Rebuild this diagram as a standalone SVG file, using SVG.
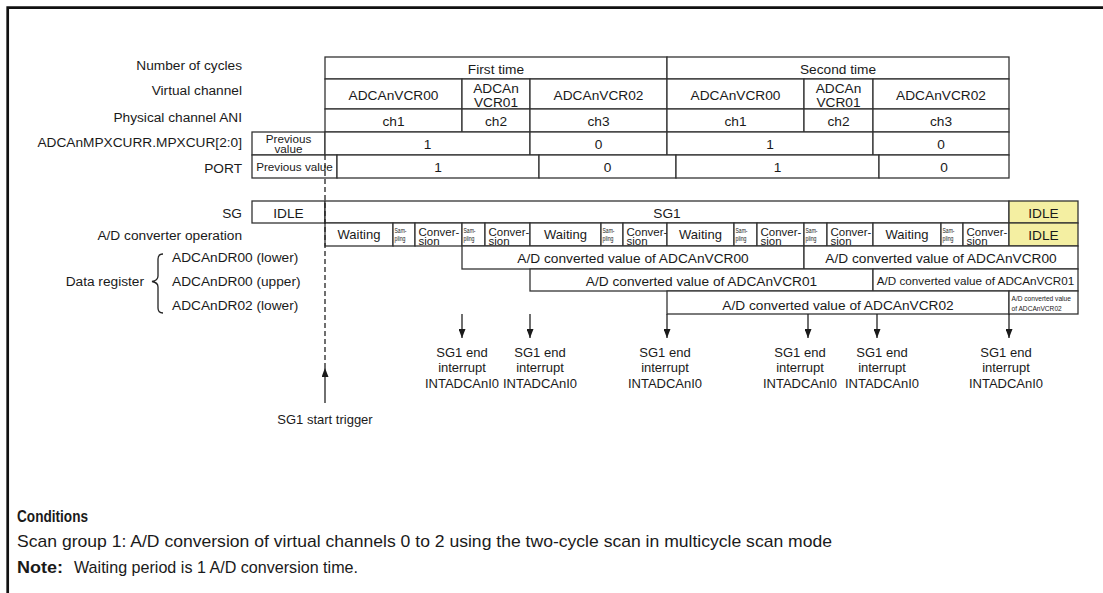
<svg xmlns="http://www.w3.org/2000/svg" width="1103" height="593" viewBox="0 0 1103 593">
<defs>
<style>
text{font-family:"Liberation Sans",Arial,Helvetica,sans-serif;fill:#1a1a1a}
.l{font-size:13.7px;text-anchor:end}
.ls{font-size:13.7px;text-anchor:start}
.c{font-size:13.7px;text-anchor:middle}
.w{font-size:13px;text-anchor:middle}
.pv{font-size:11.7px;text-anchor:middle}
.sm{font-size:7.5px}
.tn{font-size:6.6px}
.cv{font-size:11.5px}
.ir{font-size:13px;text-anchor:middle}
.b{fill:#fff;stroke:#333;stroke-width:1.3}
.y{fill:#f4efa2;stroke:#333;stroke-width:1.3}
.ln{stroke:#222;stroke-width:1.3;fill:none}
.bt{font-size:17px}
</style>
<marker id="ah" markerUnits="userSpaceOnUse" markerWidth="9" markerHeight="7" refX="9" refY="3.5" orient="auto" viewBox="0 0 9 7">
<path d="M0,0 L9,3.5 L0,7 z" fill="#1a1a1a"/>
</marker>
</defs>
<rect x="0" y="0" width="1103" height="593" fill="#fff"/>
<path d="M7.7,593 L7.7,7.7 L1103,7.7" fill="none" stroke="#111" stroke-width="2.7"/>

<g id="row-labels">
<text class="l" x="242" y="69.5">Number of cycles</text>
<text class="l" x="242" y="95">Virtual channel</text>
<text class="l" x="242" y="121.7">Physical channel ANI</text>
<text class="l" x="242" y="146.7">ADCAnMPXCURR.MPXCUR[2:0]</text>
<text class="l" x="242" y="173.3">PORT</text>
<text class="l" x="242" y="218">SG</text>
<text class="l" x="242" y="240">A/D converter operation</text>
<text class="l" x="144" y="286">Data register</text>
<text class="ls" x="172" y="261.7">ADCAnDR00 (lower)</text>
<text class="ls" x="172" y="286">ADCAnDR00 (upper)</text>
<text class="ls" x="172" y="310">ADCAnDR02 (lower)</text>
<path class="ln" d="M163,254 Q158,254 158,259 L158,276 Q158,280.5 152,281.5 Q158,282.5 158,287 L158,308 Q158,313 163,313"/>
</g>

<g id="cycles">
<rect class="b" x="325" y="57" width="342" height="22"/>
<text class="c" x="496" y="74">First time</text>
<rect class="b" x="667" y="57" width="342" height="22"/>
<text class="c" x="838" y="74">Second time</text>
</g>

<g id="virtual-channel">
<rect class="b" x="325" y="79" width="137" height="30"/>
<text class="c" x="393.5" y="100">ADCAnVCR00</text>
<rect class="b" x="462" y="79" width="68" height="30"/>
<text class="c" x="496" y="93">ADCAn</text>
<text class="c" x="496" y="106.5">VCR01</text>
<rect class="b" x="530" y="79" width="137" height="30"/>
<text class="c" x="598.5" y="100">ADCAnVCR02</text>
<rect class="b" x="667" y="79" width="137" height="30"/>
<text class="c" x="735.5" y="100">ADCAnVCR00</text>
<rect class="b" x="804" y="79" width="69" height="30"/>
<text class="c" x="838.5" y="93">ADCAn</text>
<text class="c" x="838.5" y="106.5">VCR01</text>
<rect class="b" x="873" y="79" width="136" height="30"/>
<text class="c" x="941" y="100">ADCAnVCR02</text>
</g>

<g id="physical-channel">
<rect class="b" x="325" y="109" width="137" height="23"/>
<text class="c" x="393.5" y="126">ch1</text>
<rect class="b" x="462" y="109" width="68" height="23"/>
<text class="c" x="496" y="126">ch2</text>
<rect class="b" x="530" y="109" width="137" height="23"/>
<text class="c" x="598.5" y="126">ch3</text>
<rect class="b" x="667" y="109" width="137" height="23"/>
<text class="c" x="735.5" y="126">ch1</text>
<rect class="b" x="804" y="109" width="69" height="23"/>
<text class="c" x="838.5" y="126">ch2</text>
<rect class="b" x="873" y="109" width="136" height="23"/>
<text class="c" x="941" y="126">ch3</text>
</g>

<g id="mpxcur">
<rect class="b" x="252" y="132" width="73" height="23"/>
<text class="pv" x="288.5" y="143">Previous</text>
<text class="pv" x="288.5" y="153">value</text>
<rect class="b" x="325" y="132" width="205" height="23"/>
<text class="c" x="427.5" y="149.3">1</text>
<rect class="b" x="530" y="132" width="137" height="23"/>
<text class="c" x="598.5" y="149.3">0</text>
<rect class="b" x="667" y="132" width="206" height="23"/>
<text class="c" x="770" y="149.3">1</text>
<rect class="b" x="873" y="132" width="136" height="23"/>
<text class="c" x="941" y="149.3">0</text>
</g>

<g id="port">
<rect class="b" x="252" y="155" width="85" height="23"/>
<text class="pv" x="294.5" y="170.5">Previous value</text>
<rect class="b" x="337" y="155" width="202" height="23"/>
<text class="c" x="438" y="171.7">1</text>
<rect class="b" x="539" y="155" width="137" height="23"/>
<text class="c" x="607.5" y="171.7">0</text>
<rect class="b" x="676" y="155" width="203" height="23"/>
<text class="c" x="777.5" y="171.7">1</text>
<rect class="b" x="879" y="155" width="130" height="23"/>
<text class="c" x="944" y="171.7">0</text>
</g>

<g id="sg">
<rect class="b" x="252" y="201" width="73" height="22"/>
<text class="c" x="288.5" y="218">IDLE</text>
<rect class="b" x="325" y="201" width="684" height="22"/>
<text class="c" x="667" y="218">SG1</text>
<rect class="y" x="1009" y="201" width="69" height="22"/>
<text class="c" x="1043.5" y="218">IDLE</text>
</g>

<g id="ad-operation">
<rect class="b" x="325" y="223" width="68" height="23"/>
<text class="w" x="359" y="239">Waiting</text>
<rect class="b" x="393" y="223" width="22" height="23"/>
<text class="sm" x="394.5" y="232.5" textLength="12" lengthAdjust="spacingAndGlyphs">Sam-</text>
<text class="sm" x="394.5" y="240.5" textLength="11" lengthAdjust="spacingAndGlyphs">pling</text>
<rect class="b" x="415" y="223" width="47" height="23"/>
<text class="cv" x="418.5" y="235.5">Conver-</text>
<text class="cv" x="418.5" y="244.5">sion</text>
<rect class="b" x="462" y="223" width="23" height="23"/>
<text class="sm" x="463.5" y="232.5" textLength="12" lengthAdjust="spacingAndGlyphs">Sam-</text>
<text class="sm" x="463.5" y="240.5" textLength="11" lengthAdjust="spacingAndGlyphs">pling</text>
<rect class="b" x="485" y="223" width="45" height="23"/>
<text class="cv" x="488.5" y="235.5">Conver-</text>
<text class="cv" x="488.5" y="244.5">sion</text>
<rect class="b" x="530" y="223" width="71" height="23"/>
<text class="w" x="565.5" y="239">Waiting</text>
<rect class="b" x="601" y="223" width="22" height="23"/>
<text class="sm" x="602.5" y="232.5" textLength="12" lengthAdjust="spacingAndGlyphs">Sam-</text>
<text class="sm" x="602.5" y="240.5" textLength="11" lengthAdjust="spacingAndGlyphs">pling</text>
<rect class="b" x="623" y="223" width="44" height="23"/>
<text class="cv" x="626.5" y="235.5">Conver-</text>
<text class="cv" x="626.5" y="244.5">sion</text>
<rect class="b" x="667" y="223" width="67" height="23"/>
<text class="w" x="700.5" y="239">Waiting</text>
<rect class="b" x="734" y="223" width="23" height="23"/>
<text class="sm" x="735.5" y="232.5" textLength="12" lengthAdjust="spacingAndGlyphs">Sam-</text>
<text class="sm" x="735.5" y="240.5" textLength="11" lengthAdjust="spacingAndGlyphs">pling</text>
<rect class="b" x="757" y="223" width="47" height="23"/>
<text class="cv" x="760.5" y="235.5">Conver-</text>
<text class="cv" x="760.5" y="244.5">sion</text>
<rect class="b" x="804" y="223" width="23" height="23"/>
<text class="sm" x="805.5" y="232.5" textLength="12" lengthAdjust="spacingAndGlyphs">Sam-</text>
<text class="sm" x="805.5" y="240.5" textLength="11" lengthAdjust="spacingAndGlyphs">pling</text>
<rect class="b" x="827" y="223" width="46" height="23"/>
<text class="cv" x="830.5" y="235.5">Conver-</text>
<text class="cv" x="830.5" y="244.5">sion</text>
<rect class="b" x="873" y="223" width="68" height="23"/>
<text class="w" x="907" y="239">Waiting</text>
<rect class="b" x="941" y="223" width="22" height="23"/>
<text class="sm" x="942.5" y="232.5" textLength="12" lengthAdjust="spacingAndGlyphs">Sam-</text>
<text class="sm" x="942.5" y="240.5" textLength="11" lengthAdjust="spacingAndGlyphs">pling</text>
<rect class="b" x="963" y="223" width="46" height="23"/>
<text class="cv" x="966.5" y="235.5">Conver-</text>
<text class="cv" x="966.5" y="244.5">sion</text>
<rect class="y" x="1009" y="223" width="69" height="23"/>
<text class="c" x="1043.5" y="240">IDLE</text>
</g>

<g id="dr00-lower">
<rect class="b" x="462" y="246" width="342" height="23"/>
<text class="c" x="633" y="263">A/D converted value of ADCAnVCR00</text>
<rect class="b" x="804" y="246" width="274" height="23"/>
<text class="c" x="941" y="263">A/D converted value of ADCAnVCR00</text>
</g>

<g id="dr00-upper">
<rect class="b" x="530" y="269" width="343" height="22"/>
<text class="c" x="701.5" y="286">A/D converted value of ADCAnVCR01</text>
<rect class="b" x="873" y="269" width="205" height="22"/>
<text class="pv" x="975.5" y="284.5">A/D converted value of ADCAnVCR01</text>
</g>

<g id="dr02-lower">
<rect class="b" x="667" y="291" width="342" height="23"/>
<text class="c" x="838" y="309.5">A/D converted value of ADCAnVCR02</text>
<rect class="b" x="1009" y="291" width="69" height="23"/>
<text class="tn" x="1011.5" y="301">A/D converted value</text>
<text class="tn" x="1011.5" y="310.5">of ADCAnVCR02</text>
</g>

<g id="connectors">
<line class="ln" x1="325" y1="155" x2="325" y2="368" stroke-dasharray="5,3"/>
<line class="ln" x1="325" y1="403" x2="325" y2="368" marker-end="url(#ah)"/>
<line class="ln" x1="462" y1="314" x2="462" y2="338" marker-end="url(#ah)"/>
<line class="ln" x1="530" y1="314" x2="530" y2="338" marker-end="url(#ah)"/>
<line class="ln" x1="667" y1="314" x2="667" y2="338" marker-end="url(#ah)"/>
<line class="ln" x1="808" y1="314" x2="808" y2="338" marker-end="url(#ah)"/>
<line class="ln" x1="877" y1="314" x2="877" y2="338" marker-end="url(#ah)"/>
<line class="ln" x1="1009" y1="314" x2="1009" y2="338" marker-end="url(#ah)"/>
</g>

<g id="interrupt-labels">
<text class="ir" x="462" y="356.7">SG1 end</text>
<text class="ir" x="462" y="372">interrupt</text>
<text class="ir" x="462" y="387.5">INTADCAnI0</text>
<text class="ir" x="540" y="356.7">SG1 end</text>
<text class="ir" x="540" y="372">interrupt</text>
<text class="ir" x="540" y="387.5">INTADCAnI0</text>
<text class="ir" x="665" y="356.7">SG1 end</text>
<text class="ir" x="665" y="372">interrupt</text>
<text class="ir" x="665" y="387.5">INTADCAnI0</text>
<text class="ir" x="800" y="356.7">SG1 end</text>
<text class="ir" x="800" y="372">interrupt</text>
<text class="ir" x="800" y="387.5">INTADCAnI0</text>
<text class="ir" x="882" y="356.7">SG1 end</text>
<text class="ir" x="882" y="372">interrupt</text>
<text class="ir" x="882" y="387.5">INTADCAnI0</text>
<text class="ir" x="1006" y="356.7">SG1 end</text>
<text class="ir" x="1006" y="372">interrupt</text>
<text class="ir" x="1006" y="387.5">INTADCAnI0</text>
<text class="ir" x="325" y="424">SG1 start trigger</text>
</g>

<g id="notes">
<text class="bt" x="17" y="522" font-weight="bold" textLength="71" lengthAdjust="spacingAndGlyphs">Conditions</text>
<text class="bt" x="17" y="547" textLength="815" lengthAdjust="spacingAndGlyphs">Scan group 1: A/D conversion of virtual channels 0 to 2 using the two-cycle scan in multicycle scan mode</text>
<text class="bt" x="17" y="573" font-weight="bold" textLength="46" lengthAdjust="spacingAndGlyphs">Note:</text>
<text class="bt" x="74" y="573" textLength="284" lengthAdjust="spacingAndGlyphs">Waiting period is 1 A/D conversion time.</text>
</g>
</svg>
